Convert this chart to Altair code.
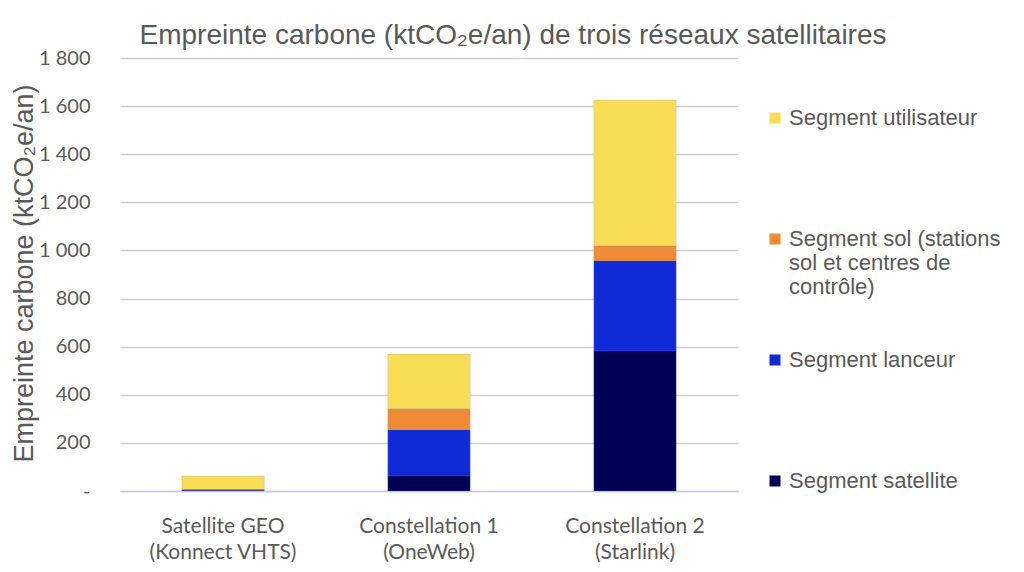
import altair as alt
import pandas as pd

categories = ["Satellite GEO\n(Konnect VHTS)", "Constellation 1\n(OneWeb)", "Constellation 2\n(Starlink)"]
segments = ["Segment utilisateur",
            "Segment sol (stations\nsol et centres de\ncontrôle)",
            "Segment lanceur",
            "Segment satellite"]
colors = ["#F9DD55", "#EF8B34", "#0F2AD6", "#000055"]

satellite = [3, 62, 582]
lanceur = [2, 192, 374]
sol = [1, 87, 62]
utilisateur = [56, 228, 607]

series = [utilisateur, sol, lanceur, satellite]
rows = []
for s_i, (seg, vals) in enumerate(zip(segments, series)):
    for c, v in zip(categories, vals):
        rows.append({"cat": c, "segment": seg, "value": v, "stack": len(segments) - 1 - s_i})
df = pd.DataFrame(rows)

GREY = "#595959"
FONT = "Liberation Sans"
TICKFONT = "Lato"

# every legend label padded to three lines so that entries are evenly spaced
legend_expr = "slice(split(datum.label + '\\n \\n ', '\\n'), 0, 3)"

bars = alt.Chart(df).mark_bar(stroke="#8080ff", strokeWidth=0.5, strokeOpacity=0.4).encode(
    x=alt.X("cat:N", sort=categories,
            scale=alt.Scale(paddingInner=0.6, paddingOuter=0.3),
            axis=alt.Axis(title=None, labelAngle=0, labelFontSize=21, labelColor=GREY,
                          labelFont=TICKFONT, labelExpr="split(datum.label, '\\n')",
                          labelLineHeight=26, labelPadding=24, ticks=False,
                          domainColor="#C8C8F8", domainWidth=1.5, labelBaseline="top")),
    y=alt.Y("value:Q", stack="zero",
            scale=alt.Scale(domain=[0, 1800], nice=False),
            axis=alt.Axis(title="Empreinte carbone (ktCO₂e/an)", values=list(range(0, 1801, 200)),
                          labelExpr="datum.value == 0 ? '-' : replace(format(datum.value, ','), ',', ' ')",
                          labelFontSize=20, labelColor=GREY, labelFont=TICKFONT, labelPadding=30,
                          ticks=False, domain=False, gridColor="#D0D0D0", gridWidth=1.5,
                          titleFontSize=27, titleColor=GREY, titleFont=FONT, titleFontWeight="normal",
                          titleX=-96, titleY=215, titleAlign="center", titleBaseline="middle",
                          titleAngle=270)),
    color=alt.Color("segment:N", scale=alt.Scale(domain=segments, range=colors),
                    legend=alt.Legend(title=None, orient="none", legendX=644, legendY=49,
                                      symbolType="square", symbolSize=121, symbolStrokeWidth=0,
                                      labelFontSize=22, labelColor=GREY, labelFont=FONT,
                                      labelExpr=legend_expr,
                                      labelLimit=300, rowPadding=51, labelOffset=3)),
    order=alt.Order("stack:Q", sort="ascending"),
)

chart = bars.properties(
    width=618, height=433,
    padding={"left": 112, "top": 50, "right": 270, "bottom": 73},
    autosize=alt.AutoSizeParams(type="none"),
    title=alt.TitleParams("Empreinte carbone (ktCO₂e/an) de trois réseaux satellitaires",
                          fontSize=28, color=GREY, font=FONT, fontWeight="normal",
                          anchor="middle", dx=84, dy=14, offset=12),
).configure_view(stroke=None)

chart.save("out.html", embed_options={"renderer": "svg", "actions": False})
